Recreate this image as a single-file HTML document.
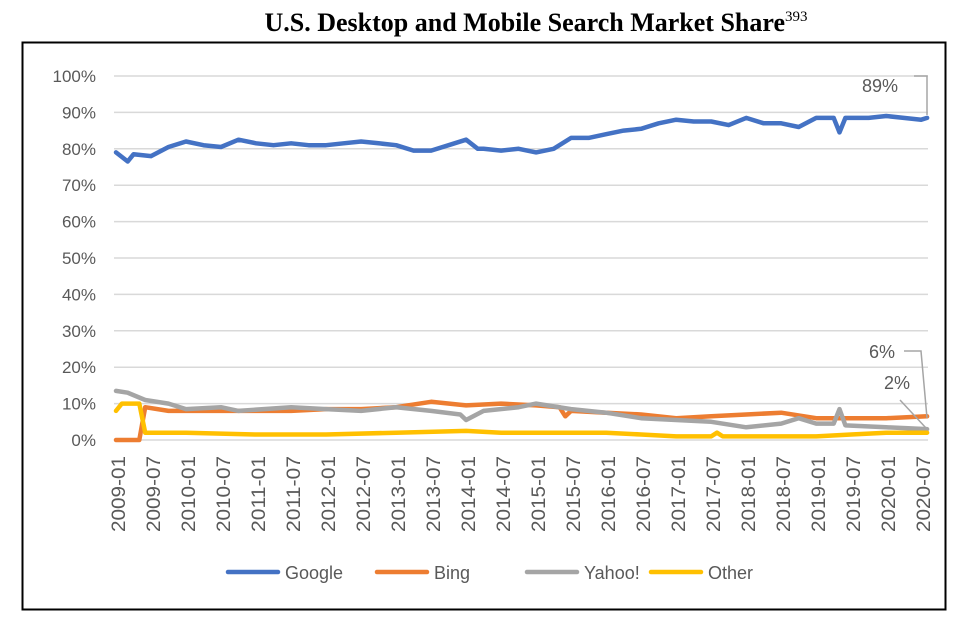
<!DOCTYPE html>
<html><head><meta charset="utf-8"><style>
body{margin:0;background:#fff;width:966px;height:618px;overflow:hidden}
svg text{font-family:"Liberation Sans",sans-serif}
</style></head><body>
<svg width="966" height="618">
<text x="536" y="31" text-anchor="middle" style="font-family:'Liberation Serif',serif;font-weight:bold;font-size:26px">U.S. Desktop and Mobile Search Market Share<tspan dy="-10" style="font-size:15px;font-weight:normal">393</tspan></text>
<rect x="22.5" y="42.5" width="923" height="567" fill="none" stroke="#000" stroke-width="2"/>
<g id="grid"></g><g id="yt"></g><g id="xt"></g><g id="lines"></g>
<g fill="#595959" font-size="18">
<text x="862" y="92">89%</text>
<polyline points="914,76 927,76 927,115" fill="none" stroke="#a5a5a5" stroke-width="1.5"/>
<text x="869" y="358">6%</text>
<polyline points="904,351 921,351 927,418" fill="none" stroke="#a5a5a5" stroke-width="1.5"/>
<text x="884" y="389">2%</text>
<polyline points="900,400 926,428" fill="none" stroke="#a5a5a5" stroke-width="1.5"/>
</g>
<g id="legend"></g>
</svg>
<script>
const googleDates=["2009-01","2009-03","2009-04","2009-07","2009-10","2010-01","2010-04","2010-07","2010-10","2011-01","2011-04","2011-07","2011-10","2012-01","2012-04","2012-07","2012-10","2013-01","2013-04","2013-07","2013-10","2014-01","2014-03","2014-04","2014-07","2014-10","2015-01","2015-04","2015-07","2015-10","2016-01","2016-04","2016-07","2016-10","2017-01","2017-04","2017-07","2017-10","2018-01","2018-04","2018-07","2018-10","2019-01","2019-04","2019-05","2019-06","2019-10","2020-01","2020-04","2020-07","2020-08"];
const googleVals=[79,76.5,78.5,78,80.5,82,81,80.5,82.5,81.5,81,81.5,81,81,81.5,82,81.5,81,79.5,79.5,81,82.5,80,80,79.5,80,79,80,83,83,84,85,85.5,87,88,87.5,87.5,86.5,88.5,87,87,86,88.5,88.5,84.5,88.5,88.5,89,88.5,88,88.5];
const bingDates=["2009-01","2009-05","2009-06","2009-10","2010-01","2010-07","2011-01","2011-07","2012-01","2012-07","2013-01","2013-07","2014-01","2014-07","2015-01","2015-05","2015-06","2015-07","2016-01","2016-07","2017-01","2017-07","2018-01","2018-07","2019-01","2019-07","2020-01","2020-08"];
const bingVals=[0,0,9,8,8,8,8,8,8.5,8.5,9,10.5,9.5,10,9.5,9,6.5,8,7.5,7,6,6.5,7,7.5,6,6,6,6.5];
const yahooDates=["2009-01","2009-03","2009-06","2009-10","2010-01","2010-07","2010-10","2011-07","2012-01","2012-07","2013-01","2013-07","2013-12","2014-01","2014-04","2014-10","2015-01","2015-07","2016-01","2016-07","2017-01","2017-07","2018-01","2018-07","2018-10","2019-01","2019-04","2019-05","2019-06","2020-01","2020-08"];
const yahooVals=[13.5,13,11,10,8.5,9,8,9,8.5,8,9,8,7,5.5,8,9,10,8.5,7.5,6,5.5,5,3.5,4.5,6,4.5,4.5,8.5,4,3.5,3];
const otherDates=["2009-01","2009-02","2009-05","2009-06","2010-01","2011-01","2012-01","2013-01","2014-01","2014-07","2016-01","2016-07","2017-01","2017-07","2017-08","2017-09","2018-01","2019-01","2019-07","2020-01","2020-08"];
const otherVals=[8,10,10,2,2,1.5,1.5,2,2.5,2,2,1.5,1,1,2,1,1,1,1.5,2,2];
const yTicks=[0,10,20,30,40,50,60,70,80,90,100];
const xTickLabels=[];for(let y=2009;y<=2020;y++){xTickLabels.push(y+"-01");xTickLabels.push(y+"-07");}
const NS="http://www.w3.org/2000/svg";
function mi(d){const p=d.split("-");return (+p[0]-2009)*12+(+p[1]-1);}
function X(d){return 116+mi(d)*5.835;}
function Y(v){return 440-v*3.64;}
function mk(t,a,par){const e=document.createElementNS(NS,t);for(const k in a)e.setAttribute(k,a[k]);document.getElementById(par).appendChild(e);return e;}
yTicks.forEach(v=>{
 const l=mk("line",{x1:114,x2:928,y1:Y(v),y2:Y(v),stroke:"#d9d9d9","stroke-width":1.5},"grid");
 
 
 const t=mk("text",{x:96,y:Y(v)+6,"text-anchor":"end","font-size":"17",fill:"#595959"},"yt");t.textContent=v+"%";
 
 
});
xTickLabels.forEach(d=>{
 const x=X(d);
 const t=mk("text",{x:0,y:0,transform:`translate(${x+9},456) rotate(-90)`,"text-anchor":"end","font-size":"19",textLength:"76",lengthAdjust:"spacingAndGlyphs",fill:"#595959"},"xt");t.textContent=d;
 
 
});
const series=[["google",googleDates,googleVals,"#4472c4"],["bing",bingDates,bingVals,"#ed7d31"],["yahoo",yahooDates,yahooVals,"#a5a5a5"],["other",otherDates,otherVals,"#ffc000"]];
series.forEach(s=>{
 const p=mk("polyline",{points:s[1].map((d,i)=>X(d).toFixed(1)+","+Y(s[2][i]).toFixed(1)).join(" "),fill:"none",stroke:s[3],"stroke-width":4.5,"stroke-linejoin":"round","stroke-linecap":"round"},"lines");
 
 
});
[["Google","#4472c4",228],["Bing","#ed7d31",377],["Yahoo!","#a5a5a5",527],["Other","#ffc000",651]].forEach(l=>{
 const ln=mk("line",{x1:l[2],x2:l[2]+50,y1:572,y2:572,stroke:l[1],"stroke-width":4.5,"stroke-linecap":"round"},"legend");
 
 
 const t=mk("text",{x:l[2]+57,y:579,"font-size":"18",fill:"#595959"},"legend");t.textContent=l[0];
 
 
});
</script>
</body></html>
